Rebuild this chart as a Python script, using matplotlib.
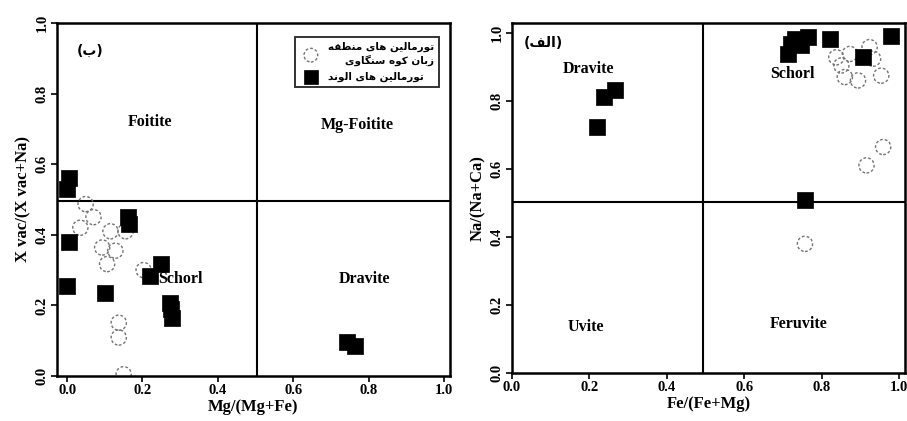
import matplotlib
matplotlib.use('Agg')
import matplotlib.pyplot as plt

# ---- data: panel (ب)  Mg/(Mg+Fe) vs X vac/(X vac+Na)
b_alv_x = [0.004, 0.0, 0.004, 0.0, 0.10, 0.162, 0.165, 0.248, 0.221, 0.274, 0.276, 0.278, 0.743, 0.765]
b_alv_y = [0.56, 0.53, 0.38, 0.255, 0.236, 0.449, 0.43, 0.317, 0.284, 0.208, 0.19, 0.165, 0.095, 0.085]
b_reg_x = [0.049, 0.035, 0.07, 0.093, 0.128, 0.106, 0.155, 0.115, 0.203, 0.137, 0.137, 0.150]
b_reg_y = [0.487, 0.42, 0.45, 0.364, 0.355, 0.317, 0.41, 0.41, 0.30, 0.151, 0.109, 0.005]

# ---- data: panel (الف)  Fe/(Fe+Mg) vs Na/(Na+Ca)
a_alv_x = [0.219, 0.239, 0.265, 0.722, 0.714, 0.731, 0.765, 0.748, 0.821, 0.907, 0.980, 0.757]
a_alv_y = [0.724, 0.812, 0.833, 0.969, 0.939, 0.983, 0.988, 0.964, 0.983, 0.929, 0.993, 0.508]
a_reg_x = [0.757, 0.916, 0.959, 0.838, 0.873, 0.851, 0.860, 0.894, 0.924, 0.933, 0.954]
a_reg_y = [0.380, 0.611, 0.665, 0.929, 0.939, 0.905, 0.871, 0.861, 0.959, 0.925, 0.875]

ticks = [0.0, 0.2, 0.4, 0.6, 0.8, 1.0]
tick_labels = ['0.0', '0.2', '0.4', '0.6', '0.8', '1.0']

leg_regional = 'تورمالین های منطقه\nزبان کوه سنگاوی'
leg_alvand = 'تورمالین های الوند'

# simple Arabic/Persian shaping: (isolated, final, initial, medial)
FORMS = {
    'ا': ('\ufe8d', '\ufe8e', None, None),
    'ب': ('\ufe8f', '\ufe90', '\ufe91', '\ufe92'),
    'ت': ('\ufe95', '\ufe96', '\ufe97', '\ufe98'),
    'د': ('\ufea9', '\ufeaa', None, None),
    'ر': ('\ufead', '\ufeae', None, None),
    'ز': ('\ufeaf', '\ufeb0', None, None),
    'س': ('\ufeb1', '\ufeb2', '\ufeb3', '\ufeb4'),
    'ط': ('\ufec1', '\ufec2', '\ufec3', '\ufec4'),
    'ف': ('\ufed1', '\ufed2', '\ufed3', '\ufed4'),
    'ق': ('\ufed5', '\ufed6', '\ufed7', '\ufed8'),
    'ل': ('\ufedd', '\ufede', '\ufedf', '\ufee0'),
    'م': ('\ufee1', '\ufee2', '\ufee3', '\ufee4'),
    'ن': ('\ufee5', '\ufee6', '\ufee7', '\ufee8'),
    'ه': ('\ufee9', '\ufeea', '\ufeeb', '\ufeec'),
    'و': ('\ufeed', '\ufeee', None, None),
    'ی': ('\ufbfc', '\ufbfd', '\ufbfe', '\ufbff'),
    'ک': ('\ufb8e', '\ufb8f', '\ufb90', '\ufb91'),
    'گ': ('\ufb92', '\ufb93', '\ufb94', '\ufb95'),
}


def shape_line(s):
    out = []
    for i, ch in enumerate(s):
        if ch not in FORMS:
            out.append(ch)
            continue
        prev = s[i - 1] if i > 0 else ''
        nxt = s[i + 1] if i + 1 < len(s) else ''
        joins_prev = prev in FORMS and FORMS[prev][2] is not None
        can_next = FORMS[ch][2] is not None and nxt in FORMS
        iso, fin, ini, med = FORMS[ch]
        if joins_prev and can_next:
            out.append(med)
        elif joins_prev:
            out.append(fin)
        elif can_next:
            out.append(ini)
        else:
            out.append(iso)
    res = ''.join(out)[::-1]
    return res.replace(')', '\0').replace('(', ')').replace('\0', '(')


def fa(s):
    return '\n'.join(shape_line(l) for l in s.split('\n'))


plt.rcParams['font.family'] = ['Liberation Serif', 'DejaVu Sans']
plt.rcParams['font.weight'] = 'bold'
plt.rcParams['axes.labelweight'] = 'bold'

fig = plt.figure(figsize=(9.07, 4.21), dpi=100)
ax1 = fig.add_axes([0.0628, 0.1069, 0.4333, 0.8385])
ax2 = fig.add_axes([0.5645, 0.114, 0.4333, 0.8314])

sq = dict(marker='s', s=125, c='black', edgecolors='black', linewidths=0.5, zorder=3)
ci = dict(marker='o', s=120, facecolors='none', edgecolors='0.45', linewidths=1.0,
          linestyle=(0, (2, 1.5)), zorder=2)

lab = 11.5

# panel (ب)
ax1.scatter(b_reg_x, b_reg_y, label=fa(leg_regional), **ci)
ax1.scatter(b_alv_x, b_alv_y, label=fa(leg_alvand), **sq)
ax1.axvline(0.505, color='black', lw=1.5, zorder=1)
ax1.axhline(0.497, color='black', lw=1.5, zorder=1)
ax1.set_xlim(-0.027, 1.016)
ax1.set_ylim(0, 1)
ax1.text(0.22, 0.72, 'Foitite', ha='center', va='center', fontsize=lab)
ax1.text(0.77, 0.71, 'Mg-Foitite', ha='center', va='center', fontsize=lab)
ax1.text(0.30, 0.274, 'Schorl', ha='center', va='center', fontsize=lab)
ax1.text(0.79, 0.274, 'Dravite', ha='center', va='center', fontsize=lab)
ax1.text(0.06, 0.92, fa('(ب)'), ha='center', va='center', fontsize=10,
         family=['DejaVu Sans'])
ax1.set_xlabel('Mg/(Mg+Fe)', fontsize=12, labelpad=1)
ax1.set_ylabel('X vac/(X vac+Na)', fontsize=12, labelpad=3)
leg = ax1.legend(loc='upper right', bbox_to_anchor=(0.985, 0.975),
                 prop={'family': ['DejaVu Sans'], 'size': 7.5, 'weight': 'bold'},
                 frameon=True, fancybox=False, edgecolor='black',
                 handletextpad=0.6, borderpad=0.5, labelspacing=0.6,
                 markerscale=0.9)
leg.get_frame().set_linewidth(1.4)
for t in leg.get_texts():
    t.set_ha('right')

# panel (الف)
ax2.scatter(a_reg_x, a_reg_y, **ci)
ax2.scatter(a_alv_x, a_alv_y, **sq)
ax2.axvline(0.494, color='black', lw=1.5, zorder=1)
ax2.axhline(0.503, color='black', lw=1.5, zorder=1)
ax2.set_xlim(0, 1.0155)
ax2.set_ylim(0, 1.03)
ax2.text(0.198, 0.895, 'Dravite', ha='center', va='center', fontsize=lab)
ax2.text(0.725, 0.88, 'Schorl', ha='center', va='center', fontsize=lab)
ax2.text(0.19, 0.135, 'Uvite', ha='center', va='center', fontsize=lab)
ax2.text(0.74, 0.145, 'Feruvite', ha='center', va='center', fontsize=lab)
ax2.text(0.082, 0.97, fa('(الف)'), ha='center', va='center', fontsize=10,
         family=['DejaVu Sans'])
ax2.set_xlabel('Fe/(Fe+Mg)', fontsize=12, labelpad=1)
ax2.set_ylabel('Na/(Na+Ca)', fontsize=12, labelpad=3)

for ax in (ax1, ax2):
    ax.set_xticks(ticks)
    ax.set_xticklabels(tick_labels)
    ax.set_yticks(ticks)
    ax.set_yticklabels(tick_labels, rotation=90, va='center')
    ax.tick_params(direction='out', length=4, width=1.2, labelsize=10.5, pad=2)
    for sp in ax.spines.values():
        sp.set_linewidth(1.8)

fig.savefig('out.png', dpi=100)
